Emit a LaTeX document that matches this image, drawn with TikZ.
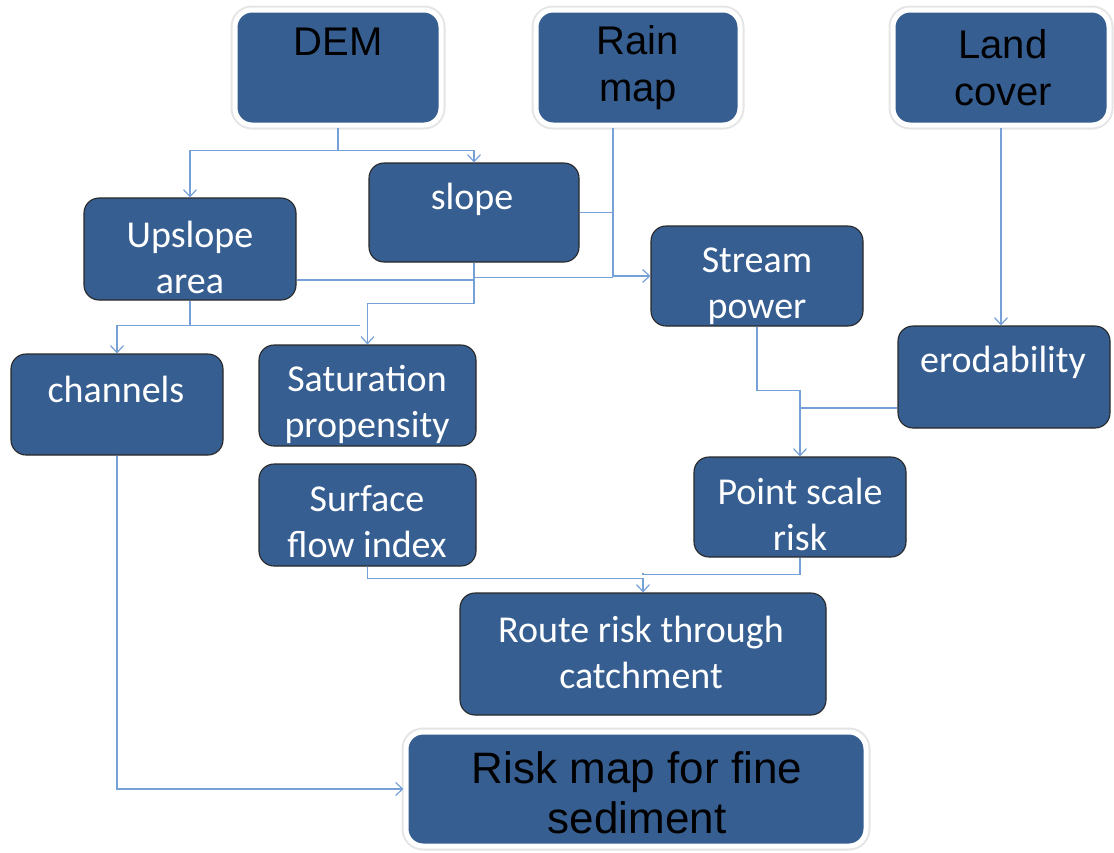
\documentclass[tikz,border=0pt]{standalone}
\usepackage{fontspec}
\setmainfont{Carlito}
\newfontfamily\arialfont{Liberation Sans}
\usetikzlibrary{arrows.meta,calc}
\definecolor{boxblue}{RGB}{54,94,145}
\definecolor{boxedge}{RGB}{40,40,40}
\definecolor{conncol}{RGB}{118,160,216}
\tikzset{
  x=1pt, y=-1pt,
  inbox/.style={draw=boxedge, line width=1.1pt, fill=boxblue, rounded corners=15pt, inner sep=0pt},
  topbox/.style={draw=white, line width=5pt, fill=boxblue, rounded corners=17pt, inner sep=0pt,
    preaction={draw=black!10, line width=9pt}},
  wtxt/.style={text=white, align=center, inner sep=0pt, font=\fontsize{38}{46}\selectfont},
  btxt/.style={text=black, align=center, inner sep=0pt, font=\arialfont\fontsize{40}{47}\selectfont},
  rtxt/.style={text=black, align=center, inner sep=0pt, font=\arialfont\fontsize{44}{50}\selectfont},
  conn/.style={draw=conncol, line width=1.2pt},
  arr/.style={conn, -{Straight Barb[length=7pt,width=13pt]}},
}
\begin{document}
\begin{tikzpicture}
\useasboundingbox (0,0) rectangle (1114,852);
% top input boxes
\node[topbox, minimum width=206, minimum height=115] (dem) at (338,67.5) {};
\node[btxt] (demt) at (338,42) {DEM};
\node[topbox, minimum width=204, minimum height=115] (rain) at (638,67.5) {};
\node[btxt] (raint) at (638,68) {Rain\\map};
\node[topbox, minimum width=216, minimum height=115] (land) at (1001,67.5) {};
\node[btxt] (landt) at (1003,68) {Land\\cover};
% inner boxes
\node[inbox, minimum width=210, minimum height=99] (slope) at (474,212.5) {};
\node[wtxt] (slopet) at (472,199) {slope};
\node[inbox, minimum width=212, minimum height=102] (upslope) at (190,249) {};
\node[wtxt] (upslopet) at (190,257) {Upslope\\area};
\node[inbox, minimum width=212, minimum height=100] (stream) at (757,276) {};
\node[wtxt] (streamt) at (757,286) {Stream\\power};
\node[inbox, minimum width=212, minimum height=102] (erod) at (1004,377) {};
\node[wtxt] (erodt) at (1003,362) {erodability};
\node[inbox, minimum width=212, minimum height=101] (chan) at (117,404.5) {};
\node[wtxt] (chant) at (116,389) {channels};
\node[inbox, minimum width=217, minimum height=101] (sat) at (367.5,395.5) {};
\node[wtxt] (satt) at (367,404) {Saturation\\propensity};
\node[inbox, minimum width=217, minimum height=102] (surf) at (367.5,515) {};
\node[wtxt] (surft) at (367,522) {Surface\\flow index};
\node[inbox, minimum width=212, minimum height=100] (point) at (800,507) {};
\node[wtxt] (pointt) at (800,514) {Point scale\\risk};
\node[inbox, minimum width=366, minimum height=122] (route) at (643,654) {};
\node[wtxt] (routet) at (641,652) {Route risk through\\catchment};
\node[topbox, minimum width=460, minimum height=114] (risk) at (636,789) {};
\node[rtxt] (riskt) at (637,793) {Risk map for fine\\sediment};
% connectors
\coordinate (demj) at ($(dem.south)+(0,23)$);
\draw[arr] (dem.south) -- (demj) -| (upslope.north);
\draw[arr] (demj) -| (slope.north);
\coordinate (rainx) at ($(rain.south)+(-25,0)$);
\draw[arr] (rainx) |- (stream.west);
\draw[conn] (slope.east) -- (slope.east -| rainx);
\coordinate (upr) at ($(upslope.east)+(0,31)$);
\draw[conn] (upr) -- (upr -| slope.south);
\coordinate (slj) at ($(slope.south)+(0,15)$);
\draw[conn] (slj) -- (slj -| rainx);
\draw[arr] (slope.south) -- ++(0,41) -| (sat.north);
\coordinate (upj) at ($(upslope.south)+(0,25)$);
\draw[arr] (upslope.south) -- (upj) -| (chan.north);
\draw[conn] (upj) -- ++(170,0);
\draw[arr] (land.south) -- (land.south |- erod.north);
\draw[arr] (stream.south) -- ++(0,64) -| (point.north);
\coordinate (erw) at ($(erod.west)+(0,31)$);
\draw[conn] (erw) -- (erw -| point.north);
\coordinate (routej) at ($(route.north)+(0,-19)$);
\draw[arr] (surf.south) -- ++(0,12) -| (route.north);
\draw[conn] (point.south) -- ++(0,17) -| (routej);
\draw[arr] (chan.south) |- (risk.west);
\end{tikzpicture}
\end{document}
